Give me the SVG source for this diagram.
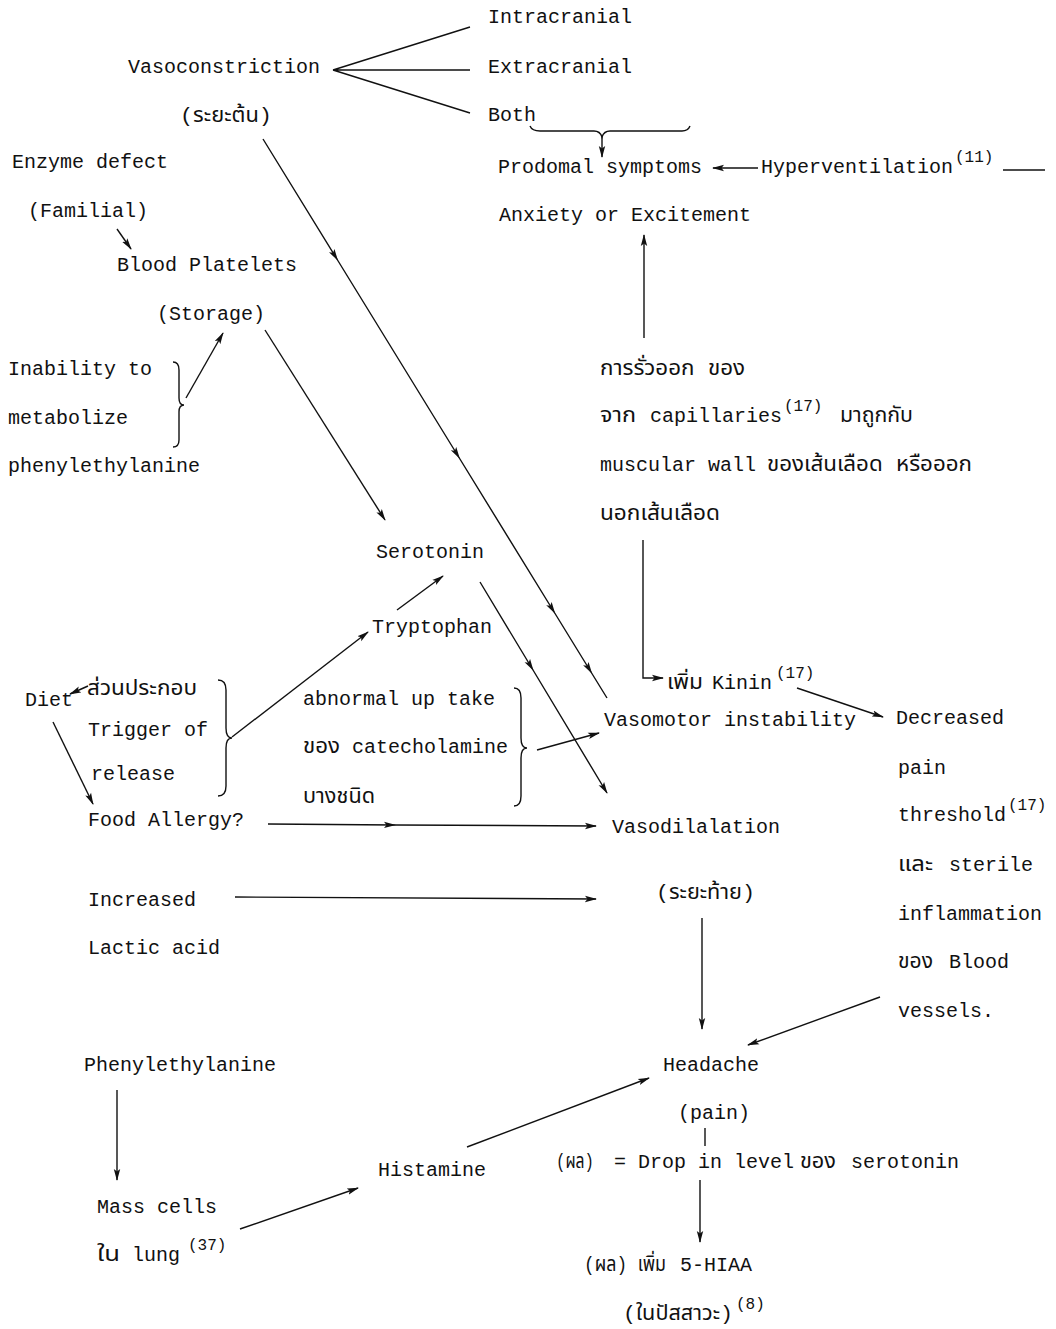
<svg xmlns="http://www.w3.org/2000/svg" width="1056" height="1329" viewBox="0 0 1056 1329">
<style>
text{font-family:"Liberation Mono","DejaVu Sans Mono",monospace;font-size:20px;fill:#111}
.th{font-family:"Liberation Mono","DejaVu Sans Mono","Noto Sans Thai","Noto Sans",sans-serif;font-size:21px}
.sup{font-size:16px}
.c{fill:none;stroke:#111;stroke-width:1.4}
</style>
<defs>
<marker id="ah" viewBox="0 0 12 8" refX="11" refY="4" markerWidth="12" markerHeight="8" markerUnits="userSpaceOnUse" orient="auto">
<path d="M0,0.8 L12,4 L0,7.2 L2.5,4 Z" fill="#111"/>
</marker>
</defs>
<rect width="1056" height="1329" fill="#fff"/>
<g id="connectors" class="c">
<path d="M333,70 L470,27 M333,70 L470,70 M333,70 L470,113"/>
<path d="M530,126 Q532,131 540,131 L594,131 Q600,131 602,137 Q604,131 610,131 L682,131 Q688,131 690,126"/>
<path d="M602,135 L602,157" marker-end="url(#ah)"/>
<path d="M758,168 L713,168" marker-end="url(#ah)"/>
<path d="M1003,170 L1045,170"/>
<path d="M644,338 L644,235" marker-end="url(#ah)"/>
<path d="M117,229 L131,249" marker-end="url(#ah)"/>
<path d="M186,398 L223,333" marker-end="url(#ah)"/>
<path d="M173,362 Q179,362 179,370 L179,398 Q179,405 184,405 Q179,405 179,412 L179,440 Q179,447 173,447"/>
<path d="M265,330 L385,520" marker-end="url(#ah)"/>
<path d="M263,139 L337.5,260 L459.3,458 L554.7,613 L591.6,673 L607,698" marker-mid="url(#ah)"/>
<path d="M480,582 L533,670 L607,793" marker-mid="url(#ah)" marker-end="url(#ah)"/>
<path d="M643,540 L643,678 L663,678" marker-end="url(#ah)"/>
<path d="M797,688 L883,717" marker-end="url(#ah)"/>
<path d="M88,686 L70,694" marker-end="url(#ah)"/>
<path d="M53,722 L93,804" marker-end="url(#ah)"/>
<path d="M218,680 Q226,680 226,690 L226,728 Q226,738 232,738 Q226,738 226,748 L226,786 Q226,796 218,796"/>
<path d="M232,737 L368,632" marker-end="url(#ah)"/>
<path d="M397,610 L443,576" marker-end="url(#ah)"/>
<path d="M514,688 Q521,688 521,698 L521,738 Q521,748 527,748 Q521,748 521,758 L521,796 Q521,806 514,806"/>
<path d="M537,750 L599,733" marker-end="url(#ah)"/>
<path d="M268,824 L395,825 L596,826" marker-mid="url(#ah)" marker-end="url(#ah)"/>
<path d="M235,897 L596,899" marker-end="url(#ah)"/>
<path d="M702,918 L702,1029" marker-end="url(#ah)"/>
<path d="M880,997 L748,1045" marker-end="url(#ah)"/>
<path d="M705,1128 L705,1146"/>
<path d="M700,1180 L700,1242" marker-end="url(#ah)"/>
<path d="M117,1090 L117,1180" marker-end="url(#ah)"/>
<path d="M240,1229 L358,1188" marker-end="url(#ah)"/>
<path d="M467,1147 L649,1078" marker-end="url(#ah)"/>
</g>
<g id="n-vasoconstriction"><text x="128" y="73">Vasoconstriction</text><text class="th" x="180" y="122" textLength="92" lengthAdjust="spacingAndGlyphs">(ระยะต้น)</text></g>
<g id="n-intracranial"><text x="488" y="23">Intracranial</text></g>
<g id="n-extracranial"><text x="488" y="73">Extracranial</text></g>
<g id="n-both"><text x="488" y="121">Both</text></g>
<g id="n-prodomal"><text x="498" y="173">Prodomal symptoms</text><text x="499" y="221">Anxiety or Excitement</text></g>
<g id="n-hyperventilation"><text x="761" y="173">Hyperventilation</text><text class="sup" x="955" y="162">(11)</text></g>
<g id="n-enzyme"><text x="12" y="168">Enzyme defect</text><text x="28" y="217">(Familial)</text></g>
<g id="n-platelets"><text x="117" y="271">Blood Platelets</text><text x="157" y="320">(Storage)</text></g>
<g id="n-inability"><text x="8" y="375">Inability to</text><text x="8" y="424">metabolize</text><text x="8" y="472">phenylethylanine</text></g>
<g id="n-leak">
<text class="th" x="600" y="375" textLength="145" lengthAdjust="spacingAndGlyphs">การรั่วออก ของ</text>
<text class="th" x="600" y="422" textLength="36" lengthAdjust="spacingAndGlyphs">จาก</text><text x="650" y="422">capillaries</text><text class="sup" x="784" y="411">(17)</text><text class="th" x="840" y="422" textLength="73" lengthAdjust="spacingAndGlyphs">มาถูกกับ</text>
<text x="600" y="471">muscular wall</text><text class="th" x="767" y="471" textLength="205" lengthAdjust="spacingAndGlyphs">ของเส้นเลือด หรือออก</text>
<text class="th" x="600" y="520" textLength="120" lengthAdjust="spacingAndGlyphs">นอกเส้นเลือด</text>
</g>
<g id="n-serotonin"><text x="376" y="558">Serotonin</text></g>
<g id="n-tryptophan"><text x="372" y="633">Tryptophan</text></g>
<g id="n-kinin"><text class="th" x="667" y="689" textLength="36" lengthAdjust="spacingAndGlyphs">เพิ่ม</text><text x="712" y="689">Kinin</text><text class="sup" x="776" y="678">(17)</text></g>
<g id="n-diet"><text x="25" y="706">Diet</text><text class="th" x="87" y="695" textLength="110" lengthAdjust="spacingAndGlyphs">ส่วนประกอบ</text><text x="88" y="736">Trigger of</text><text x="91" y="780">release</text></g>
<g id="n-catecholamine"><text x="303" y="705">abnormal up take</text><text class="th" x="303" y="753" textLength="37" lengthAdjust="spacingAndGlyphs">ของ</text><text x="352" y="753">catecholamine</text><text class="th" x="303" y="803" textLength="72" lengthAdjust="spacingAndGlyphs">บางชนิด</text></g>
<g id="n-vasomotor"><text x="604" y="726">Vasomotor instability</text></g>
<g id="n-decreased"><text x="896" y="724">Decreased</text><text x="898" y="774">pain</text><text x="898" y="821">threshold</text><text class="sup" x="1008" y="810">(17)</text><text class="th" x="898" y="871" textLength="35" lengthAdjust="spacingAndGlyphs">และ</text><text x="949" y="871">sterile</text><text x="898" y="920">inflammation</text><text class="th" x="898" y="968" textLength="35" lengthAdjust="spacingAndGlyphs">ของ</text><text x="949" y="968">Blood</text><text x="898" y="1017">vessels.</text></g>
<g id="n-food"><text x="88" y="826">Food Allergy?</text></g>
<g id="n-vasodilalation"><text x="612" y="833">Vasodilalation</text><text class="th" x="656" y="899" textLength="99" lengthAdjust="spacingAndGlyphs">(ระยะท้าย)</text></g>
<g id="n-lactic"><text x="88" y="906">Increased</text><text x="88" y="954">Lactic acid</text></g>
<g id="n-phenyl"><text x="84" y="1071">Phenylethylanine</text></g>
<g id="n-headache"><text x="663" y="1071">Headache</text><text x="678" y="1119">(pain)</text></g>
<g id="n-drop"><text class="th" x="556" y="1168" textLength="38" lengthAdjust="spacingAndGlyphs">(ผล)</text><text x="614" y="1168">= Drop in level</text><text class="th" x="800" y="1168" textLength="36" lengthAdjust="spacingAndGlyphs">ของ</text><text x="851" y="1168">serotonin</text></g>
<g id="n-histamine"><text x="378" y="1176">Histamine</text></g>
<g id="n-mass"><text x="97" y="1213">Mass cells</text><text class="th" x="97" y="1261" textLength="23" lengthAdjust="spacingAndGlyphs">ใน</text><text x="132" y="1261">lung</text><text class="sup" x="188" y="1250">(37)</text></g>
<g id="n-hiaa"><text class="th" x="584" y="1271" textLength="82" lengthAdjust="spacingAndGlyphs">(ผล) เพิ่ม</text><text x="680" y="1271">5-HIAA</text><text class="th" x="623" y="1320" textLength="110" lengthAdjust="spacingAndGlyphs">(ในปัสสาวะ)</text><text class="sup" x="736" y="1309">(8)</text></g>
</svg>
